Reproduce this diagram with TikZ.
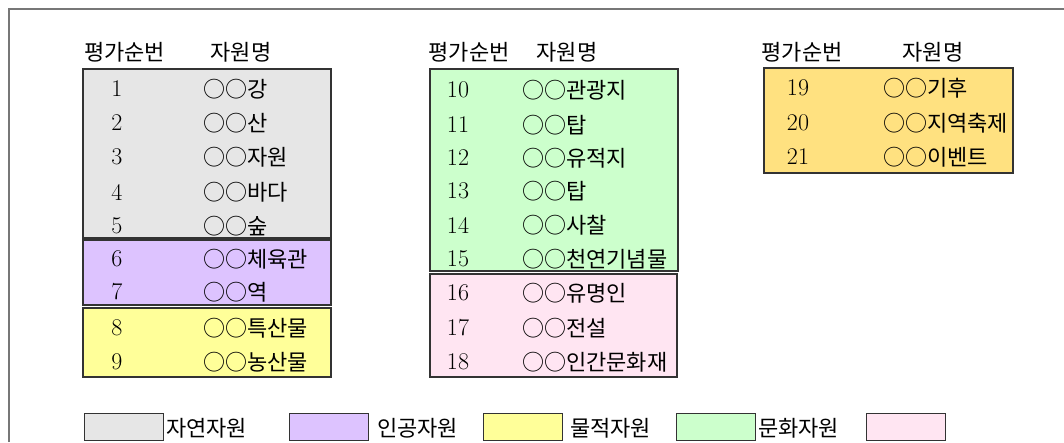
\documentclass[tikz,border=0pt]{standalone}
\usepackage{fontspec}
\newfontfamily\kr{Noto Sans CJK KR}
\definecolor{cgray}{HTML}{E6E6E6}
\definecolor{cpurple}{HTML}{DDC3FF}
\definecolor{cyellow}{HTML}{FFFF99}
\definecolor{cgreen}{HTML}{CCFFCC}
\definecolor{cpink}{HTML}{FFE5F2}
\definecolor{corange}{HTML}{FFE180}
\definecolor{frame}{HTML}{777777}
\tikzset{
  grp/.style={draw=black!80, line width=1.1pt},
  hdr/.style={font=\kr\fontsize{22}{22}\selectfont, inner sep=0pt, anchor=center},
  num/.style={font=\fontsize{24}{24}\selectfont, inner sep=0pt, anchor=center},
  rname/.style={font=\kr\fontsize{22}{22}\selectfont, inner sep=0pt, anchor=west},
  legbox/.style={draw=black!80, line width=1.1pt, minimum width=79pt, minimum height=27pt, inner sep=0pt, anchor=north west},
  legtxt/.style={font=\kr\fontsize{22}{22}\selectfont, inner sep=0pt, anchor=west},
}
\begin{document}
\begin{tikzpicture}[x=1pt,y=-1pt]
\useasboundingbox (0,0) rectangle (1064,442);
\fill[white] (0,0) rectangle (1064,442);
% outer frame (only top and left visible)
\draw[frame, line width=1.5pt] (9,442) -- (9,9) -- (1064,9);

% group boxes
\filldraw[grp, fill=cgray]   (83,69)  rectangle (331,238);
\filldraw[grp, fill=cpurple] (83,240) rectangle (331,305);
\filldraw[grp, fill=cyellow] (83,308) rectangle (331,377);
\filldraw[grp, fill=cgreen]  (430,69) rectangle (678,271);
\filldraw[grp, fill=cpink]   (430,274) rectangle (677,377);
\filldraw[grp, fill=corange] (764,68) rectangle (1013,173);

% headers
\node[hdr] (h1a) at (124.5,52) {평가순번};
\node[hdr] (h1b) at (241,52) {자원명};
\node[hdr] (h2a) at (469,52) {평가순번};
\node[hdr] (h2b) at (567,52) {자원명};
\node[hdr] (h3a) at (802,52) {평가순번};
\node[hdr] (h3b) at (933,52) {자원명};

% column 1
\foreach \n/\t/\y in {1/강/89, 2/산/123, 3/자원/157, 4/바다/192, 5/숲/226, 6/체육관/259, 7/역/292, 8/특산물/328, 9/농산물/362}{
  \node[num] (n\n) at (117,\y) {\n};
  \node[rname] (r\n) at (203,\y) {○○\t};
}
% column 2
\foreach \n/\t/\y in {10/관광지/90, 11/탑/125, 12/유적지/158, 13/탑/191, 14/사찰/225, 15/천연기념물/259, 16/유명인/293, 17/전설/328, 18/인간문화재/362}{
  \node[num] (n\n) at (458,\y) {\n};
  \node[rname] (r\n) at (522,\y) {○○\t};
}
% column 3
\foreach \n/\t/\y in {19/기후/88, 20/지역축제/123, 21/이벤트/157}{
  \node[num] (n\n) at (798,\y) {\n};
  \node[rname] (r\n) at (883,\y) {○○\t};
}

% legend
\node[legbox, fill=cgray]   (l1) at (84,413) {};
\node[legtxt] (t1) at (166,428) {자연자원};
\node[legbox, fill=cpurple] (l2) at (289,413) {};
\node[legtxt] (t2) at (377,428) {인공자원};
\node[legbox, fill=cyellow] (l3) at (483,413) {};
\node[legtxt] (t3) at (570,428) {물적자원};
\node[legbox, fill=cgreen]  (l4) at (676,413) {};
\node[legtxt] (t4) at (758,428) {문화자원};
\node[legbox, fill=cpink]   (l5) at (866,413) {};
\end{tikzpicture}
\end{document}
